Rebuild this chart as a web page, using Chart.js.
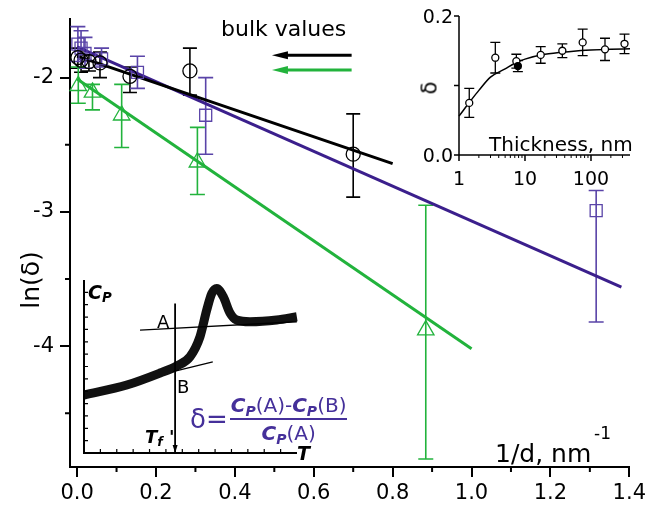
<!DOCTYPE html>
<html>
<head>
<meta charset="utf-8">
<title>ln(delta) vs 1/d</title>
<script src="https://cdn.jsdelivr.net/npm/chart.js@4.4.1/dist/chart.umd.min.js"></script>
<style>
  html, body { margin: 0; padding: 0; background: #fff; }
  #wrap { position: relative; width: 650px; height: 506px; overflow: hidden;
          font-family: "DejaVu Sans", Verdana, sans-serif; }
  #wrap canvas { position: absolute; }
  .lbl { position: absolute; white-space: nowrap; line-height: 1; color: #000; }
  .cp { font-weight: bold; font-style: italic; }
  .cp sub { font-size: 70%; vertical-align: -0.25em; line-height: 0; }
  .purple { color: #45309a; }
</style>
</head>
<body>
<div id="wrap">
  <canvas id="mainChart" width="650" height="506" style="left:0;top:0"></canvas>
  <canvas id="thickChart" width="260" height="200" style="left:390px;top:0"></canvas>
  <canvas id="cpChart" width="260" height="200" style="left:60px;top:270px"></canvas>

  <div class="lbl" style="left:221px;top:18px;font-size:22px">bulk values</div>
  <div class="lbl" style="left:30px;top:280px;font-size:25px;transform:translate(-50%,-50%) rotate(-90deg)">ln(δ)</div>
  <div class="lbl" style="left:495px;top:441px;font-size:25px">1/d, nm</div>
  <div class="lbl" style="left:594px;top:425px;font-size:17px">-1</div>

  <div class="lbl" style="left:489px;top:134px;font-size:20px">Thickness, nm</div>
  <div class="lbl" style="left:430px;top:88px;font-size:21px;transform:translate(-50%,-50%) rotate(-90deg)">δ</div>

  <div class="lbl cp" style="left:88px;top:283px;font-size:19px">C<sub>P</sub></div>
  <div class="lbl" style="left:157px;top:313px;font-size:18px">A</div>
  <div class="lbl" style="left:177px;top:378px;font-size:18px">B</div>
  <div class="lbl cp" style="left:145px;top:428px;font-size:18px">T<sub>f</sub> '</div>
  <div class="lbl cp" style="left:297px;top:444px;font-size:19px">T</div>

  <div class="lbl purple" style="left:190px;top:395px;display:flex;align-items:center">
    <span style="font-size:26px">δ=</span>
    <span style="display:inline-flex;flex-direction:column;align-items:center;font-size:20px;margin-left:2px">
      <span style="padding:0 1px 3px"><span class="cp">C<sub>P</sub></span>(A)-<span class="cp">C<sub>P</sub></span>(B)</span>
      <span style="border-top:2px solid #45309a;padding-top:3px;align-self:stretch;text-align:center"><span class="cp">C<sub>P</sub></span>(A)</span>
    </span>
  </div>
</div>

<script>
// ---- main plot: ln(delta) vs 1/d ----
const xTicks = [0, 0.2, 0.4, 0.6, 0.8, 1.0, 1.2, 1.4];
const xMinor = [0.1, 0.3, 0.5, 0.7, 0.9, 1.1, 1.3];
const yTicks = [-4, -3, -2];
const yMinor = [-4.5, -3.5, -2.5];

const blackX  = [0.002, 0.010, 0.030, 0.058, 0.134, 0.286, 0.700];
const blackY  = [-1.85, -1.87, -1.88, -1.89, -1.99, -1.95, -2.57];
const blackHi = [-1.78, -1.80, -1.83, -1.81, -1.92, -1.78, -2.27];
const blackLo = [-1.93, -1.96, -1.95, -2.00, -2.11, -2.13, -2.89];

const purpleX  = [0.002, 0.010, 0.020, 0.062, 0.153, 0.326, 1.316];
const purpleY  = [-1.75, -1.78, -1.82, -1.86, -1.96, -2.28, -2.99];
const purpleHi = [-1.62, -1.65, -1.70, -1.78, -1.84, -2.00, -2.84];
const purpleLo = [-1.88, -1.88, -1.93, -1.92, -2.08, -2.57, -3.82];

const greenX  = [0.003, 0.039, 0.113, 0.305, 0.884];
const greenY  = [-2.06, -2.11, -2.28, -2.63, -3.88];
const greenHi = [-1.92, -2.05, -2.05, -2.37, -2.95];
const greenLo = [-2.19, -2.24, -2.52, -2.87, -4.84];

const blackFitX  = [0, 0.8],  blackFitY  = [-1.84, -2.64];
const purpleFitX = [0, 1.38], purpleFitY = [-1.77, -3.56];
const greenFitX  = [0, 1.0],  greenFitY  = [-2.01, -4.02];

// "bulk values" arrows (tail x, head x) and their levels
const bulkArrowX = [0.696, 0.494];
const bulkArrowY = [-1.833, -1.943];

// ---- inset: delta vs thickness ----
const thickX   = [1.43, 3.55, 7.4, 7.8, 17.3, 36.8, 74.8, 163, 322];
const thickY   = [0.075, 0.140, 0.135, 0.128, 0.144, 0.150, 0.162, 0.152, 0.160];
const thickErr = [0.021, 0.022, 0.010, 0.008, 0.012, 0.010, 0.019, 0.016, 0.014];
const thickFitX = [1, 1.5, 2, 3, 5, 7, 10, 20, 50, 100, 200, 390];
const thickFitY = [0.056, 0.078, 0.093, 0.112, 0.124, 0.132, 0.138, 0.145, 0.149, 0.151, 0.152, 0.153];
const thickYTicks = [0, 0.1, 0.2];
const thickYLabels = ['0.0', '', '0.2'];
const thickXTicks = [1, 10, 100];
const thickXMinor = [2, 3, 4, 5, 6, 7, 8, 9, 20, 30, 40, 50, 60, 70, 80, 90, 200, 300];

// ---- inset: Cp vs T sketch ----
const cpT = [0, 2.61, 4.64, 5.66, 6.47, 7.08, 7.49, 7.80, 8.10, 8.50, 8.91, 9.32, 10.13, 11.76, 12.99];
const cpV = [4.69, 5.50, 6.47, 7.04, 7.79, 9.41, 11.57, 12.92, 13.32, 12.65, 11.33, 10.76, 10.62, 10.76, 11.03];
const tanAT = [3.42, 12.99], tanAV = [9.95, 10.62];
const tanBT = [5.43, 7.86],  tanBV = [6.58, 7.38];
const tfT = [5.56, 5.56],    tfV = [12.1, 0];
const cpTTicks = [1, 2, 3, 4, 5, 6, 7, 8, 9, 10, 11, 12];
const cpVTicks = [1, 2, 3, 4, 5, 6, 7, 8, 9, 10, 11, 12, 13];

const PURPLE = '#3b1f8c', PURPLE_PT = '#5a44a8', GREEN = '#22b33c';
const FONT = '"DejaVu Sans", Verdana, sans-serif';

function pts(xs, ys) { return xs.map((x, i) => ({ x: x, y: ys[i] })); }

const errorBars = {
  id: 'errorBars',
  beforeDatasetsDraw(chart) {
    const ctx = chart.ctx, xs = chart.scales.x, ys = chart.scales.y;
    chart.data.datasets.forEach(ds => {
      if (!ds.errHi) return;
      ctx.save();
      ctx.strokeStyle = ds.borderColor;
      ctx.lineWidth = ds.errWidth || 1.6;
      ctx.beginPath();
      ds.data.forEach((p, i) => {
        const px = xs.getPixelForValue(p.x);
        const top = ys.getPixelForValue(ds.errHi[i]);
        const bot = ys.getPixelForValue(ds.errLo[i]);
        const c = ds.capHalf;
        ctx.moveTo(px, top); ctx.lineTo(px, bot);
        ctx.moveTo(px - c, top); ctx.lineTo(px + c, top);
        ctx.moveTo(px - c, bot); ctx.lineTo(px + c, bot);
      });
      ctx.stroke();
      ctx.restore();
    });
  }
};

const mainExtras = {
  id: 'mainExtras',
  afterDraw(chart) {
    const ctx = chart.ctx, a = chart.chartArea, x = chart.scales.x, y = chart.scales.y;
    ctx.save();
    ctx.strokeStyle = '#000';
    ctx.lineWidth = 2;
    ctx.beginPath();
    xMinor.forEach(v => { const px = x.getPixelForValue(v); ctx.moveTo(px, a.bottom); ctx.lineTo(px, a.bottom + 5); });
    yMinor.forEach(v => { const py = y.getPixelForValue(v); ctx.moveTo(a.left - 5, py); ctx.lineTo(a.left, py); });
    ctx.stroke();
    [['#000', bulkArrowY[0]], [GREEN, bulkArrowY[1]]].forEach(([col, v]) => {
      const py = y.getPixelForValue(v);
      const tail = x.getPixelForValue(bulkArrowX[0]), head = x.getPixelForValue(bulkArrowX[1]);
      ctx.strokeStyle = col; ctx.fillStyle = col; ctx.lineWidth = 3;
      ctx.beginPath(); ctx.moveTo(tail, py); ctx.lineTo(head + 10, py); ctx.stroke();
      ctx.beginPath(); ctx.moveTo(head, py); ctx.lineTo(head + 16, py - 4); ctx.lineTo(head + 16, py + 4); ctx.closePath(); ctx.fill();
    });
    ctx.restore();
  }
};

const axisCommon = {
  grid: { drawOnChartArea: false, tickLength: 10, color: '#000', lineWidth: 2 },
  border: { color: '#000', width: 2 }
};

new Chart(document.getElementById('mainChart'), {
  type: 'scatter',
  data: {
    datasets: [
      { data: pts(blackX, blackY), errHi: blackHi, errLo: blackLo, capHalf: 7,
        pointStyle: 'circle', pointRadius: 7, pointBorderWidth: 1.3,
        borderColor: '#000', pointBorderColor: '#000', pointBackgroundColor: 'rgba(0,0,0,0)', clip: false },
      { data: pts(purpleX, purpleY), errHi: purpleHi, errLo: purpleLo, capHalf: 7.5,
        pointStyle: 'rect', pointRadius: 8.5, pointBorderWidth: 1.3,
        borderColor: PURPLE_PT, pointBorderColor: PURPLE_PT, pointBackgroundColor: 'rgba(0,0,0,0)', clip: false },
      { data: pts(greenX, greenY), errHi: greenHi, errLo: greenLo, capHalf: 7.5,
        pointStyle: 'triangle', pointRadius: 9.5, pointBorderWidth: 1.3,
        borderColor: GREEN, pointBorderColor: GREEN, pointBackgroundColor: 'rgba(0,0,0,0)', clip: false },
      { data: pts(blackFitX, blackFitY), showLine: true, borderColor: '#000', borderWidth: 3, pointRadius: 0, clip: false },
      { data: pts(purpleFitX, purpleFitY), showLine: true, borderColor: PURPLE, borderWidth: 3, pointRadius: 0, clip: false },
      { data: pts(greenFitX, greenFitY), showLine: true, borderColor: GREEN, borderWidth: 3, pointRadius: 0, clip: false }
    ]
  },
  options: {
    responsive: false, animation: false, events: [],
    layout: { padding: { left: 0, right: 20, top: 12, bottom: 0 } },
    plugins: { legend: { display: false }, tooltip: { enabled: false } },
    scales: {
      x: Object.assign({
        type: 'linear', min: -0.018, max: 1.4,
        afterBuildTicks: s => { s.ticks = xTicks.map(v => ({ value: v })); },
        afterFit: s => { s.height = 39; },
        ticks: { font: { family: FONT, size: 21 }, color: '#000', padding: 4, maxRotation: 0, autoSkip: false,
                 callback: v => Number(v).toFixed(1) }
      }, axisCommon),
      y: Object.assign({
        type: 'linear', min: -4.9, max: -1.56,
        afterBuildTicks: s => { s.ticks = yTicks.map(v => ({ value: v })); },
        afterFit: s => { s.width = 70; },
        ticks: { font: { family: FONT, size: 21 }, color: '#000', padding: 6, callback: v => String(v) }
      }, axisCommon)
    }
  },
  plugins: [errorBars, mainExtras]
});

// ---- thickness inset ----
const thickAxes = {
  id: 'thickAxes',
  afterDraw(chart) {
    const ctx = chart.ctx, a = chart.chartArea, x = chart.scales.x, y = chart.scales.y;
    ctx.save();
    ctx.strokeStyle = '#000'; ctx.fillStyle = '#000'; ctx.lineWidth = 1.5;
    ctx.beginPath();
    ctx.moveTo(a.left, a.top); ctx.lineTo(a.left, a.bottom); ctx.lineTo(a.right, a.bottom);
    thickYTicks.forEach(v => { const py = y.getPixelForValue(v); ctx.moveTo(a.left - 5, py); ctx.lineTo(a.left, py); });
    thickXTicks.forEach(v => { const px = x.getPixelForValue(v); ctx.moveTo(px, a.bottom); ctx.lineTo(px, a.bottom + 6); });
    ctx.stroke();
    ctx.lineWidth = 1;
    ctx.beginPath();
    thickXMinor.forEach(v => { const px = x.getPixelForValue(v); ctx.moveTo(px, a.bottom); ctx.lineTo(px, a.bottom + 3); });
    ctx.stroke();
    ctx.font = '19px ' + FONT;
    ctx.textAlign = 'right'; ctx.textBaseline = 'alphabetic';
    thickYTicks.forEach((v, i) => { ctx.fillText(thickYLabels[i], a.left - 6, y.getPixelForValue(v) + 7); });
    ctx.textAlign = 'center';
    thickXTicks.forEach(v => { ctx.fillText(String(v), x.getPixelForValue(v), a.bottom + 30); });
    ctx.restore();
  }
};

new Chart(document.getElementById('thickChart'), {
  type: 'scatter',
  data: {
    datasets: [
      { data: pts(thickX, thickY),
        errHi: thickY.map((v, i) => v + thickErr[i]), errLo: thickY.map((v, i) => v - thickErr[i]),
        capHalf: 5, errWidth: 1.3,
        pointRadius: 3.5, pointBorderWidth: 1.3, borderColor: '#000', pointBorderColor: '#000',
        pointBackgroundColor: ['#fff', '#fff', '#fff', '#000', '#fff', '#fff', '#fff', '#fff', '#fff'], clip: false },
      { data: pts(thickFitX, thickFitY), showLine: true, borderColor: '#000', borderWidth: 1.5, pointRadius: 0,
        cubicInterpolationMode: 'monotone', clip: false }
    ]
  },
  options: {
    responsive: false, animation: false, events: [],
    layout: { padding: { left: 69, right: 20, top: 16, bottom: 45 } },
    plugins: { legend: { display: false }, tooltip: { enabled: false } },
    scales: {
      x: { type: 'logarithmic', min: 1, max: 390, display: false },
      y: { type: 'linear', min: 0, max: 0.2, display: false }
    }
  },
  plugins: [errorBars, thickAxes]
});

// ---- Cp sketch inset ----
const cpAxes = {
  id: 'cpAxes',
  afterDraw(chart) {
    const ctx = chart.ctx, a = chart.chartArea, x = chart.scales.x, y = chart.scales.y;
    ctx.save();
    ctx.strokeStyle = '#000'; ctx.fillStyle = '#000'; ctx.lineWidth = 2;
    ctx.beginPath();
    ctx.moveTo(a.left, a.top); ctx.lineTo(a.left, a.bottom); ctx.lineTo(a.right, a.bottom);
    ctx.stroke();
    ctx.lineWidth = 1.2;
    ctx.beginPath();
    cpTTicks.forEach(v => { const px = x.getPixelForValue(v); ctx.moveTo(px, a.bottom); ctx.lineTo(px, a.bottom - 4); });
    cpVTicks.forEach(v => { const py = y.getPixelForValue(v); ctx.moveTo(a.left, py); ctx.lineTo(a.left + 4, py); });
    ctx.stroke();
    const px = x.getPixelForValue(tfT[1]), py = y.getPixelForValue(tfV[1]);
    ctx.beginPath(); ctx.moveTo(px, py); ctx.lineTo(px - 2.5, py - 8); ctx.lineTo(px + 2.5, py - 8); ctx.closePath(); ctx.fill();
    ctx.restore();
  }
};

new Chart(document.getElementById('cpChart'), {
  type: 'scatter',
  data: {
    datasets: [
      { data: pts(tanAT, tanAV), showLine: true, borderColor: '#000', borderWidth: 1.3, pointRadius: 0, clip: false },
      { data: pts(tanBT, tanBV), showLine: true, borderColor: '#000', borderWidth: 1.3, pointRadius: 0, clip: false },
      { data: pts(tfT, tfV), showLine: true, borderColor: '#000', borderWidth: 1.8, pointRadius: 0, clip: false },
      { data: pts(cpT, cpV), showLine: true, borderColor: '#111', borderWidth: 9, pointRadius: 0,
        cubicInterpolationMode: 'monotone', clip: false }
    ]
  },
  options: {
    responsive: false, animation: false, events: [],
    layout: { padding: { left: 24, right: 23, top: 10, bottom: 17 } },
    plugins: { legend: { display: false }, tooltip: { enabled: false } },
    scales: {
      x: { type: 'linear', min: 0, max: 13, display: false },
      y: { type: 'linear', min: 0, max: 14, display: false }
    }
  },
  plugins: [cpAxes]
});
</script>
</body>
</html>
